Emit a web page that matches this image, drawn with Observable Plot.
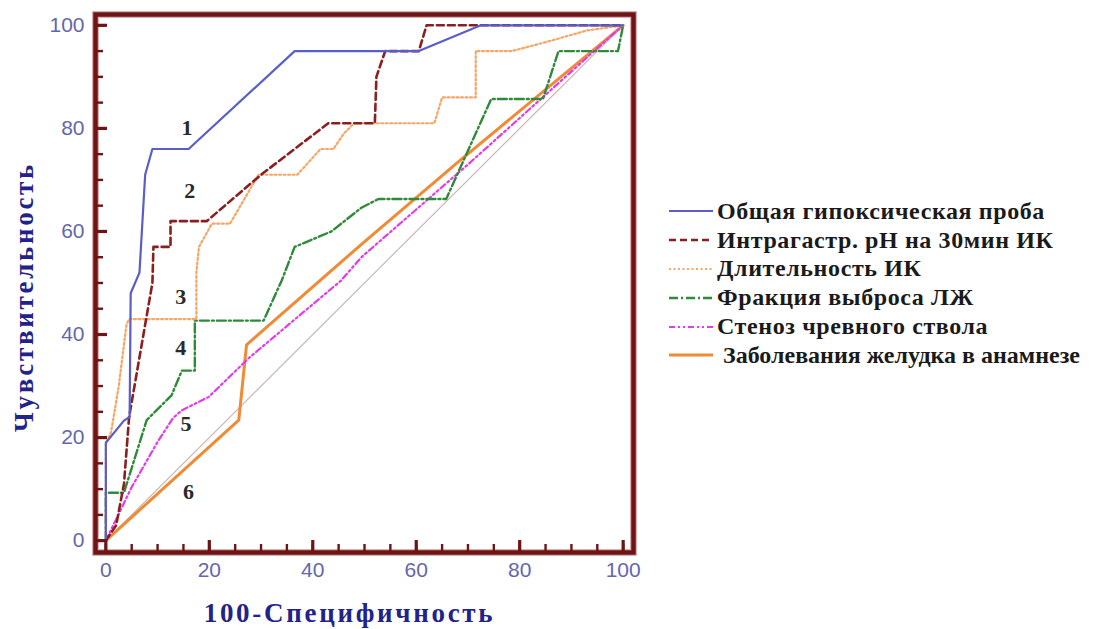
<!DOCTYPE html>
<html>
<head>
<meta charset="utf-8">
<script src="https://cdn.jsdelivr.net/npm/d3@7"></script>
<script src="https://cdn.jsdelivr.net/npm/@observablehq/plot@0.6"></script>
<style>
  html, body { margin: 0; padding: 0; background: #fff; }
  #wrap { position: relative; width: 1096px; height: 629px; }
  #legend { position: absolute; left: 668px; top: 197px; font-family: "Liberation Serif", "DejaVu Serif", serif; font-weight: bold; font-size: 24px; letter-spacing: 0.6px; color: #1a1a1a; }
  .row { display: flex; align-items: center; height: 28.8px; white-space: nowrap; }
  .row svg { flex: none; margin-right: 3px; }
</style>
</head>
<body>
<div id="wrap"><div id="legend"></div></div>
<script>
// ROC curves: x = 100 - specificity, y = sensitivity
const seriesNames = [
  "Общая гипоксическая проба",
  "Интрагастр. рН на 30мин ИК",
  "Длительность ИК",
  "Фракция выброса ЛЖ",
  "Стеноз чревного ствола",
  "Заболевания желудка в анамнезе"
];
const hypoxiaX = [0, 0, 3.5, 4.6, 4.8, 6.5, 7.6, 9, 16, 36.5, 60.5, 72.5, 100];
const hypoxiaY = [0, 19, 23.3, 24, 48, 52, 71, 76, 76, 95, 95, 100, 100];
const phX = [0, 2, 3.5, 4.5, 9, 9.2, 12.5, 12.5, 19.5, 30, 43, 52, 52.3, 54, 60.5, 62, 100];
const phY = [0, 3, 11, 24, 50, 57, 57, 62, 62, 71, 81, 81, 90, 95, 95, 100, 100];
const durX = [0, 0, 1, 2.5, 4, 4.5, 17.5, 17.5, 18, 20.5, 24, 29.5, 37, 41.5, 44, 46, 48, 63.5, 65, 71.5, 71.5, 78.5, 86, 93, 100];
const durY = [0, 19, 21, 30, 42, 43, 43, 52, 57, 61.5, 61.5, 71, 71, 76, 76, 79, 81, 81, 86, 86, 95, 95, 97, 99, 100];
const efX = [0, 0, 3.5, 7.9, 12.7, 14.7, 17.2, 17.2, 30.5, 34, 36.5, 43.6, 49.4, 52.7, 65.8, 74.5, 84.5, 87.5, 99, 100];
const efY = [0, 9.3, 9.3, 23.4, 28.2, 33, 33, 42.7, 42.7, 50.5, 57, 60, 64.6, 66.3, 66.3, 85.7, 85.7, 95, 95, 100];
const stenosisX = [0, 5, 10.2, 13, 14.7, 19.9, 27.6, 45.5, 49.4, 70, 94.4, 100];
const stenosisY = [0, 10.4, 19.5, 23.8, 25.3, 27.9, 35.4, 50.5, 55, 73, 95, 100];
const stomachX = [0, 25.7, 27.2, 49.4, 68.7, 100];
const stomachY = [0, 23.4, 38, 57.5, 74, 100];
const diagX = [0, 100];
const diagY = [0, 100];
const curveLabels = ["1", "2", "3", "4", "5", "6"];
const curveLabelX = [15.7, 16.2, 14.5, 14.5, 15.5, 16];
const curveLabelY = [80, 67.8, 47.2, 37.3, 22.7, 9.5];
const majorTicks = [0, 20, 40, 60, 80, 100];
const minorTicks = [0, 5, 10, 15, 20, 25, 30, 35, 40, 45, 50, 55, 60, 65, 70, 75, 80, 85, 90, 95, 100];

const xs = [hypoxiaX, phX, durX, efX, stenosisX, stomachX];
const ys = [hypoxiaY, phY, durY, efY, stenosisY, stomachY];
const styles = [
  {stroke: "#5a5ec8", strokeWidth: 2.2, dash: null},
  {stroke: "#8a1f1f", strokeWidth: 2.6, dash: "7,4"},
  {stroke: "#f6a565", strokeWidth: 2.2, dash: "2,2.5"},
  {stroke: "#2f8a3a", strokeWidth: 2.4, dash: "9,3,2,3"},
  {stroke: "#e23ce6", strokeWidth: 2.2, dash: "6,3,2,3,2,3"},
  {stroke: "#f08a35", strokeWidth: 3, dash: null}
];
const toRows = (X, Y) => X.map((x, i) => ({x, y: Y[i]}));

const W = 1096, H = 629, ML = 95, MR = 463, MT = 14, MB = 77;
const frameW = W - ML - MR, frameH = H - MT - MB;

const marks = [
  Plot.line(toRows(diagX, diagY), {x: "x", y: "y", stroke: "#cdb6b6", strokeWidth: 1.2})
];
[5, 4, 3, 2, 1, 0].forEach(k => {
  const s = styles[k];
  marks.push(Plot.line(toRows(xs[k], ys[k]), {x: "x", y: "y", stroke: s.stroke, strokeWidth: s.strokeWidth, strokeDasharray: s.dash, curve: "linear"}));
});
const serif = "Liberation Serif, Times New Roman, serif";
const tickColor = "#6e1414";
marks.push(
  Plot.text(curveLabels.map((t, i) => ({t, x: curveLabelX[i], y: curveLabelY[i]})), {
    x: "x", y: "y", text: "t", fontSize: 22, fontWeight: "bold", fontFamily: serif, fill: "#2a2a2a"
  }),
  Plot.frame({stroke: "#dcb0b0", strokeWidth: 7}),
  Plot.frame({stroke: tickColor, strokeWidth: 4.5}),
  // inward ticks (bottom and left), drawn as short rules using insets
  Plot.ruleX(minorTicks, {x: d => d, insetTop: frameH - 8, stroke: tickColor, strokeWidth: 2.4}),
  Plot.ruleX(majorTicks, {x: d => d, insetTop: frameH - 12, stroke: tickColor, strokeWidth: 3.2}),
  Plot.ruleY(minorTicks, {y: d => d, insetRight: frameW - 8, stroke: tickColor, strokeWidth: 2.4}),
  Plot.ruleY(majorTicks, {y: d => d, insetRight: frameW - 12, stroke: tickColor, strokeWidth: 3.2}),
  // tick labels
  Plot.axisX({ticks: majorTicks, tickSize: 0, tickPadding: 10, label: null, fontSize: 21, fill: "#6466ad", fontFamily: "Liberation Sans, Arial, sans-serif"}),
  Plot.axisY({ticks: majorTicks, tickSize: 0, tickPadding: 11, label: null, fontSize: 21, fill: "#6466ad", fontFamily: "Liberation Sans, Arial, sans-serif"}),
  // axis titles
  Plot.text(["100-Специфичность"], {frameAnchor: "bottom", textAnchor: "middle", lineAnchor: "middle", dx: -15, dy: 61, fontSize: 27, fontWeight: "bold", fontFamily: serif, fill: "#22238a"}),
  Plot.text(["Чувствительность"], {frameAnchor: "left", textAnchor: "middle", lineAnchor: "middle", rotate: -90, dx: -71.5, dy: 13.5, fontSize: 27, fontWeight: "bold", fontFamily: serif, fill: "#22238a"})
);

const chart = Plot.plot({
  width: W,
  height: H,
  marginLeft: ML,
  marginRight: MR,
  marginTop: MT,
  marginBottom: MB,
  x: {domain: [-2, 102], axis: null},
  y: {domain: [-2.3, 102.1], axis: null},
  style: {background: "#fff", overflow: "visible"},
  marks
});
d3.select(chart).selectAll("text")
  .filter(function() { return /Специфичность|Чувствительность/.test(this.textContent); })
  .style("letter-spacing", "2.7px");
document.getElementById("wrap").prepend(chart);

// legend
const legend = document.getElementById("legend");
seriesNames.forEach((name, k) => {
  const s = styles[k];
  const row = document.createElement("div");
  row.className = "row";
  const sw = d3.create("svg").attr("width", 46).attr("height", 10);
  sw.append("line").attr("x1", 1).attr("x2", 45).attr("y1", 5).attr("y2", 5)
    .attr("stroke", s.stroke).attr("stroke-width", s.strokeWidth)
    .attr("stroke-dasharray", s.dash);
  row.appendChild(sw.node());
  const span = document.createElement("span");
  span.textContent = name;
  if (k === 5) { span.style.marginLeft = "6px"; span.style.letterSpacing = "0px"; }
  row.appendChild(span);
  legend.appendChild(row);
});
</script>
</body>
</html>
